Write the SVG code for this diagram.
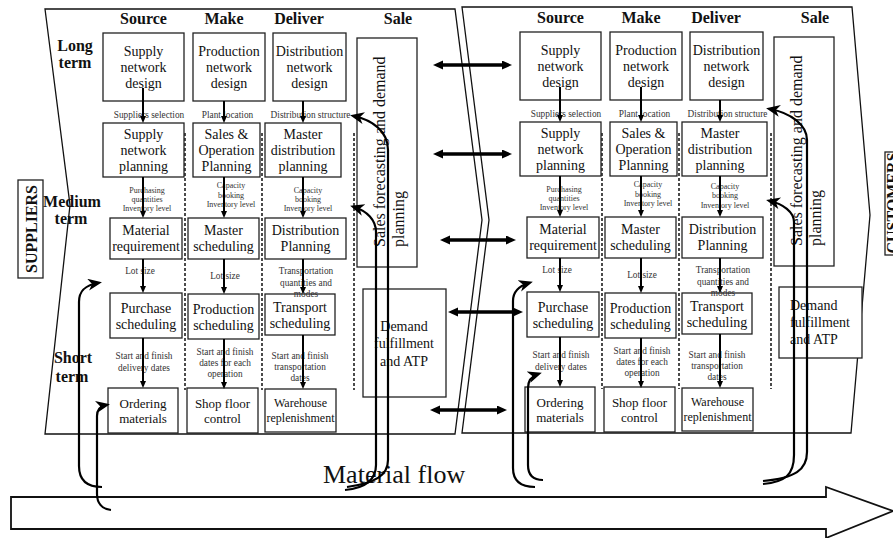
<svg xmlns="http://www.w3.org/2000/svg" width="893" height="538" viewBox="0 0 893 538">
<defs>
<marker id="ah" markerUnits="userSpaceOnUse" markerWidth="8" markerHeight="8" refX="3" refY="3" orient="auto"><path d="M0,0 L7,3 L0,6 Z" fill="#000"/></marker>
<marker id="hh" markerUnits="userSpaceOnUse" markerWidth="12" markerHeight="10" refX="2" refY="4.5" orient="auto-start-reverse"><path d="M0,0 L10,4.5 L0,9 Z" fill="#000"/></marker>
<marker id="ch" markerUnits="userSpaceOnUse" markerWidth="16" markerHeight="14" refX="10" refY="6" orient="auto"><path d="M0,0 L14,6 L0,12 L4,6 Z" fill="#000"/></marker>
<style>
text{font-family:"Liberation Serif","Times New Roman",serif;fill:#111}
.box{fill:#fff;stroke:#222;stroke-width:1.3}
.panel{fill:#fff;stroke:#111;stroke-width:1.3}
.t14{font-size:14px;text-anchor:middle}
.t13{font-size:13px;text-anchor:middle}
.t12{font-size:12px;text-anchor:middle}
.t16{font-size:16px}
.hdr{font-size:16px;font-weight:bold;text-anchor:middle}
.lb{font-size:9.3px;text-anchor:middle;fill:#333}
.lb8{font-size:8px;text-anchor:middle;fill:#333}
.dash{stroke:#111;stroke-width:1.5;stroke-dasharray:3 2;fill:none}
.va{stroke:#000;stroke-width:2;fill:none;marker-end:url(#ah)}
.ha{stroke:#000;stroke-width:3.5;fill:none;marker-start:url(#hh);marker-end:url(#hh)}
.ca{stroke:#000;stroke-width:2.2;fill:none;marker-end:url(#ch)}
.cl{stroke:#000;stroke-width:2.2;fill:none}
</style>
</defs>
<rect width="893" height="538" fill="#fff"/>

<!-- panels -->
<g id="panels">
<polygon class="panel" points="45,9 455,9 482,220 455,434 45,434 70,205"/>
<polygon class="panel" points="462,7 852,7 870,215 851,433 462,433 489,220"/>
</g>

<!-- suppliers / customers -->
<g id="suppliers"><rect class="box" x="18" y="180" width="25" height="98"/><text class="hdr" transform="translate(37,229) rotate(-90)">SUPPLIERS</text></g>
<g id="customers"><rect class="box" x="885" y="152" width="20" height="103"/><text class="hdr" transform="translate(898,203) rotate(-90)">CUSTOMERS</text></g>

<!-- material flow -->
<g id="material-flow">
<polygon fill="#fff" stroke="#111" stroke-width="1.8" points="11,497 826,497 826,487 893,511 826,538 826,529 11,529"/>
<text x="323" y="483" style="font-size:26px">Material flow</text>
</g>

<!-- LEFT PANEL -->
<g id="left-labels">
<text class="hdr" x="143.5" y="24">Source</text>
<text class="hdr" x="224" y="24">Make</text>
<text class="hdr" x="299" y="24">Deliver</text>
<text class="hdr" x="398" y="24">Sale</text>
<text class="hdr" x="75" y="51">Long</text><text class="hdr" x="75" y="68">term</text>
<text class="hdr" x="72" y="207">Medium</text><text class="hdr" x="71" y="224">term</text>
<text class="hdr" x="73" y="363">Short</text><text class="hdr" x="72" y="382">term</text>
</g>

<g id="left-dashes">
<line class="dash" x1="185" y1="133" x2="185" y2="390"/>
<line class="dash" x1="262" y1="133" x2="262" y2="390"/>
<line class="dash" x1="354" y1="133" x2="354" y2="390"/>
</g>

<g id="l-snd"><rect class="box" x="103" y="33" width="81" height="68"/><text class="t14" x="143.5" y="56">Supply</text><text class="t14" x="143.5" y="72">network</text><text class="t14" x="143.5" y="88">design</text></g>
<g id="l-pnd"><rect class="box" x="193" y="33" width="72" height="68"/><text class="t14" x="229" y="56">Production</text><text class="t14" x="229" y="72">network</text><text class="t14" x="229" y="88">design</text></g>
<g id="l-dnd"><rect class="box" x="273" y="33" width="73" height="68"/><text class="t14" x="309.5" y="56">Distribution</text><text class="t14" x="309.5" y="72">network</text><text class="t14" x="309.5" y="88">design</text></g>
<g id="l-snp"><rect class="box" x="103" y="123" width="81" height="54"/><text class="t14" x="143.5" y="139">Supply</text><text class="t14" x="143.5" y="155">network</text><text class="t14" x="143.5" y="171">planning</text></g>
<g id="l-sop"><rect class="box" x="193" y="123" width="67" height="54"/><text class="t14" x="226.5" y="139">Sales &amp;</text><text class="t14" x="226.5" y="155">Operation</text><text class="t14" x="226.5" y="171">Planning</text></g>
<g id="l-mdp"><rect class="box" x="265" y="123" width="76" height="54"/><text class="t14" x="303" y="139">Master</text><text class="t14" x="303" y="155">distribution</text><text class="t14" x="303" y="171">planning</text></g>
<g id="l-mr"><rect class="box" x="110" y="218" width="72" height="41"/><text class="t14" x="146" y="235">Material</text><text class="t14" x="146" y="251">requirement</text></g>
<g id="l-ms"><rect class="box" x="188" y="218" width="71" height="41"/><text class="t14" x="223.5" y="235">Master</text><text class="t14" x="223.5" y="251">scheduling</text></g>
<g id="l-dp"><rect class="box" x="265" y="218" width="81" height="41"/><text class="t14" x="305.5" y="235">Distribution</text><text class="t14" x="305.5" y="251">Planning</text></g>
<g id="l-pur"><rect class="box" x="110" y="293" width="72" height="45"/><text class="t14" x="146" y="313">Purchase</text><text class="t14" x="146" y="329">scheduling</text></g>
<g id="l-pro"><rect class="box" x="188" y="294" width="71" height="45"/><text class="t14" x="223.5" y="314">Production</text><text class="t14" x="223.5" y="330">scheduling</text></g>
<g id="l-ts"><rect class="box" x="265" y="294" width="70" height="41"/><text class="t14" x="300" y="312">Transport</text><text class="t14" x="300" y="328">scheduling</text></g>
<g id="l-om"><rect class="box" x="108" y="388" width="70" height="45"/><text class="t13" x="143" y="408">Ordering</text><text class="t13" x="143" y="423">materials</text></g>
<g id="l-sfc"><rect class="box" x="187" y="388" width="71" height="45"/><text class="t13" x="222.5" y="408">Shop floor</text><text class="t13" x="222.5" y="423">control</text></g>
<g id="l-wr"><rect class="box" x="265" y="389" width="71" height="43"/><text class="t12" x="300.5" y="407">Warehouse</text><text class="t12" x="300.5" y="422">replenishment</text></g>
<g id="l-sfdp"><rect class="box" x="357" y="38" width="60" height="229"/><text class="t16" transform="translate(385,247) rotate(-90)">Sales forecasting and demand</text><text class="t16" transform="translate(404,247) rotate(-90)">planning</text></g>
<g id="l-dfa"><rect class="box" x="363" y="289" width="83" height="108"/><text class="t14" x="404" y="331">Demand</text><text class="t14" x="404" y="348">fulfillment</text><text class="t14" x="404" y="366">and ATP</text></g>

<g id="left-flow-labels">
<text class="lb" x="149" y="118">Suppliers selection</text>
<text class="lb" x="227.5" y="118">Plant location</text>
<text class="lb" x="310.5" y="118">Distribution structure</text>
<text class="lb8" x="147" y="193">Purchasing</text><text class="lb8" x="147" y="202">quantities</text><text class="lb8" x="147" y="211">Inventory level</text>
<text class="lb8" x="231" y="188">Capacity</text><text class="lb8" x="231" y="198">booking</text><text class="lb8" x="231" y="207">Inventory level</text>
<text class="lb8" x="308" y="193">Capacity</text><text class="lb8" x="308" y="202">booking</text><text class="lb8" x="308" y="211">Inventory level</text>
<text class="lb" x="140" y="274">Lot size</text>
<text class="lb" x="225" y="279">Lot size</text>
<text class="lb" x="306" y="274">Transportation</text><text class="lb" x="306" y="286">quantities and</text><text class="lb" x="306" y="297">modes</text>
<text class="lb" x="144" y="359">Start and finish</text><text class="lb" x="144" y="371">delivery  dates</text>
<text class="lb" x="225" y="355">Start and finish</text><text class="lb" x="225" y="366">dates for each</text><text class="lb" x="225" y="377">operation</text>
<text class="lb" x="300" y="359">Start and finish</text><text class="lb" x="300" y="370">transportation</text><text class="lb" x="300" y="381">dates</text>
</g>

<!-- RIGHT PANEL -->
<g id="right-panel" transform="translate(417,-1)">
<g id="right-labels">
<text class="hdr" x="143.5" y="24">Source</text>
<text class="hdr" x="224" y="24">Make</text>
<text class="hdr" x="299" y="24">Deliver</text>
<text class="hdr" x="398" y="24">Sale</text>
</g>
<g id="right-dashes">
<line class="dash" x1="185" y1="134" x2="185" y2="390"/>
<line class="dash" x1="262" y1="134" x2="262" y2="390"/>
<line class="dash" x1="354" y1="134" x2="354" y2="390"/>
</g>
<g id="r-snd"><rect class="box" x="103" y="33" width="81" height="68"/><text class="t14" x="143.5" y="56">Supply</text><text class="t14" x="143.5" y="72">network</text><text class="t14" x="143.5" y="88">design</text></g>
<g id="r-pnd"><rect class="box" x="193" y="33" width="72" height="68"/><text class="t14" x="229" y="56">Production</text><text class="t14" x="229" y="72">network</text><text class="t14" x="229" y="88">design</text></g>
<g id="r-dnd"><rect class="box" x="273" y="33" width="73" height="68"/><text class="t14" x="309.5" y="56">Distribution</text><text class="t14" x="309.5" y="72">network</text><text class="t14" x="309.5" y="88">design</text></g>
<g id="r-snp"><rect class="box" x="103" y="123" width="81" height="54"/><text class="t14" x="143.5" y="139">Supply</text><text class="t14" x="143.5" y="155">network</text><text class="t14" x="143.5" y="171">planning</text></g>
<g id="r-sop"><rect class="box" x="193" y="123" width="67" height="54"/><text class="t14" x="226.5" y="139">Sales &amp;</text><text class="t14" x="226.5" y="155">Operation</text><text class="t14" x="226.5" y="171">Planning</text></g>
<g id="r-mdp"><rect class="box" x="265" y="123" width="85" height="54"/><text class="t14" x="303" y="139">Master</text><text class="t14" x="303" y="155">distribution</text><text class="t14" x="303" y="171">planning</text></g>
<g id="r-mr"><rect class="box" x="110" y="218" width="72" height="41"/><text class="t14" x="146" y="235">Material</text><text class="t14" x="146" y="251">requirement</text></g>
<g id="r-ms"><rect class="box" x="188" y="218" width="71" height="41"/><text class="t14" x="223.5" y="235">Master</text><text class="t14" x="223.5" y="251">scheduling</text></g>
<g id="r-dp"><rect class="box" x="265" y="218" width="81" height="41"/><text class="t14" x="305.5" y="235">Distribution</text><text class="t14" x="305.5" y="251">Planning</text></g>
<g id="r-pur"><rect class="box" x="110" y="293" width="72" height="45"/><text class="t14" x="146" y="313">Purchase</text><text class="t14" x="146" y="329">scheduling</text></g>
<g id="r-pro"><rect class="box" x="188" y="294" width="71" height="45"/><text class="t14" x="223.5" y="314">Production</text><text class="t14" x="223.5" y="330">scheduling</text></g>
<g id="r-ts"><rect class="box" x="265" y="294" width="70" height="41"/><text class="t14" x="300" y="312">Transport</text><text class="t14" x="300" y="328">scheduling</text></g>
<g id="r-om"><rect class="box" x="108" y="388" width="70" height="45"/><text class="t13" x="143" y="408">Ordering</text><text class="t13" x="143" y="423">materials</text></g>
<g id="r-sfc"><rect class="box" x="187" y="388" width="71" height="45"/><text class="t13" x="222.5" y="408">Shop floor</text><text class="t13" x="222.5" y="423">control</text></g>
<g id="r-wr"><rect class="box" x="265" y="389" width="71" height="43"/><text class="t12" x="300.5" y="407">Warehouse</text><text class="t12" x="300.5" y="422">replenishment</text></g>
<g id="r-sfdp"><rect class="box" x="357" y="38" width="60" height="229"/><text class="t16" transform="translate(385,247) rotate(-90)">Sales forecasting and demand</text><text class="t16" transform="translate(404,247) rotate(-90)">planning</text></g>
<g id="right-flow-labels">
<text class="lb" x="149" y="118">Suppliers selection</text>
<text class="lb" x="227.5" y="118">Plant location</text>
<text class="lb" x="310.5" y="118">Distribution structure</text>
<text class="lb8" x="147" y="193">Purchasing</text><text class="lb8" x="147" y="202">quantities</text><text class="lb8" x="147" y="211">Inventory level</text>
<text class="lb8" x="231" y="188">Capacity</text><text class="lb8" x="231" y="198">booking</text><text class="lb8" x="231" y="207">Inventory level</text>
<text class="lb8" x="308" y="190">Capacity</text><text class="lb8" x="308" y="199">booking</text><text class="lb8" x="308" y="209">Inventory level</text>
<text class="lb" x="140" y="274">Lot size</text>
<text class="lb" x="225" y="279">Lot size</text>
<text class="lb" x="306" y="274">Transportation</text><text class="lb" x="306" y="286">quantities and</text><text class="lb" x="306" y="297">modes</text>
<text class="lb" x="144" y="359">Start and finish</text><text class="lb" x="144" y="371">delivery  dates</text>
<text class="lb" x="225" y="355">Start and finish</text><text class="lb" x="225" y="366">dates for each</text><text class="lb" x="225" y="377">operation</text>
<text class="lb" x="300" y="359">Start and finish</text><text class="lb" x="300" y="370">transportation</text><text class="lb" x="300" y="381">dates</text>
</g>
<g id="right-vertical-connectors">
<line class="va" x1="143" y1="88" x2="143" y2="119"/>
<line class="va" x1="143" y1="177" x2="143" y2="214"/>
<line class="va" x1="143" y1="259" x2="143" y2="289"/>
<line class="va" x1="143" y1="338" x2="143" y2="384"/>
<line class="va" x1="224" y1="88" x2="224" y2="119"/>
<line class="va" x1="224" y1="177" x2="224" y2="214"/>
<line class="va" x1="224" y1="259" x2="224" y2="290"/>
<line class="va" x1="224" y1="339" x2="224" y2="385"/>
<line class="va" x1="303" y1="101" x2="303" y2="119"/>
<line class="va" x1="303" y1="177" x2="303" y2="214"/>
<line class="va" x1="303" y1="259" x2="303" y2="290"/>
<line class="va" x1="303" y1="335" x2="303" y2="385"/>
</g>
</g>

<g id="r-dfa"><rect class="box" x="779" y="287" width="83" height="71"/><text class="t16" x="790" y="310" style="font-size:14px">Demand</text><text x="790" y="327" style="font-size:14px">fulfillment</text><text x="790" y="344" style="font-size:14px">and ATP</text></g>

<!-- CONNECTORS -->
<g id="connectors">
<line class="va" x1="143" y1="88" x2="143" y2="119"/>
<line class="va" x1="143" y1="177" x2="143" y2="214"/>
<line class="va" x1="143" y1="259" x2="143" y2="289"/>
<line class="va" x1="143" y1="338" x2="143" y2="384"/>
<line class="va" x1="224" y1="101" x2="224" y2="119"/>
<line class="va" x1="224" y1="177" x2="224" y2="214"/>
<line class="va" x1="224" y1="259" x2="224" y2="290"/>
<line class="va" x1="224" y1="339" x2="224" y2="385"/>
<line class="va" x1="303" y1="101" x2="303" y2="119"/>
<line class="va" x1="303" y1="177" x2="303" y2="214"/>
<line class="va" x1="303" y1="259" x2="303" y2="290"/>
<line class="va" x1="303" y1="335" x2="303" y2="385"/>

<line class="ha" x1="441" y1="65" x2="504" y2="65"/>
<line class="ha" x1="441" y1="154" x2="504" y2="154"/>
<line class="ha" x1="448" y1="240" x2="508" y2="240"/>
<line class="ha" x1="456" y1="312" x2="515" y2="312"/>
<line class="ha" x1="438" y1="410" x2="499" y2="410"/>

<path class="ca" d="M102,487 C86,487 79,479 79,466 L79,302 C79,290 86,285 98,283"/>
<path class="ca" d="M111,510 C102,509 97,503 97,494 L97,416 C97,409 101,406 106,405"/>
<path class="ca" d="M345,490 C366,488 376,480 376,465 L376,232 C376,220 367,211 354,207"/>
<path class="ca" d="M347,487 C376,483 388,475 388,460 L388,150 C388,131 372,120 354,116"/>

<path class="ca" d="M535,487 C520,487 513,480 513,468 L513,301 C513,291 519,286 529,283"/>
<path class="ca" d="M543,480 C533,480 528,475 528,465 L528,388 C528,380 532,376 538,374"/>
<path class="ca" d="M763,484 C785,482 794,475 794,455 L794,222 C794,212 783,204 770,201"/>
<path class="ca" d="M763,481 C795,478 807,470 807,452 L807,140 C807,125 791,113 770,109"/>
</g>
</svg>
